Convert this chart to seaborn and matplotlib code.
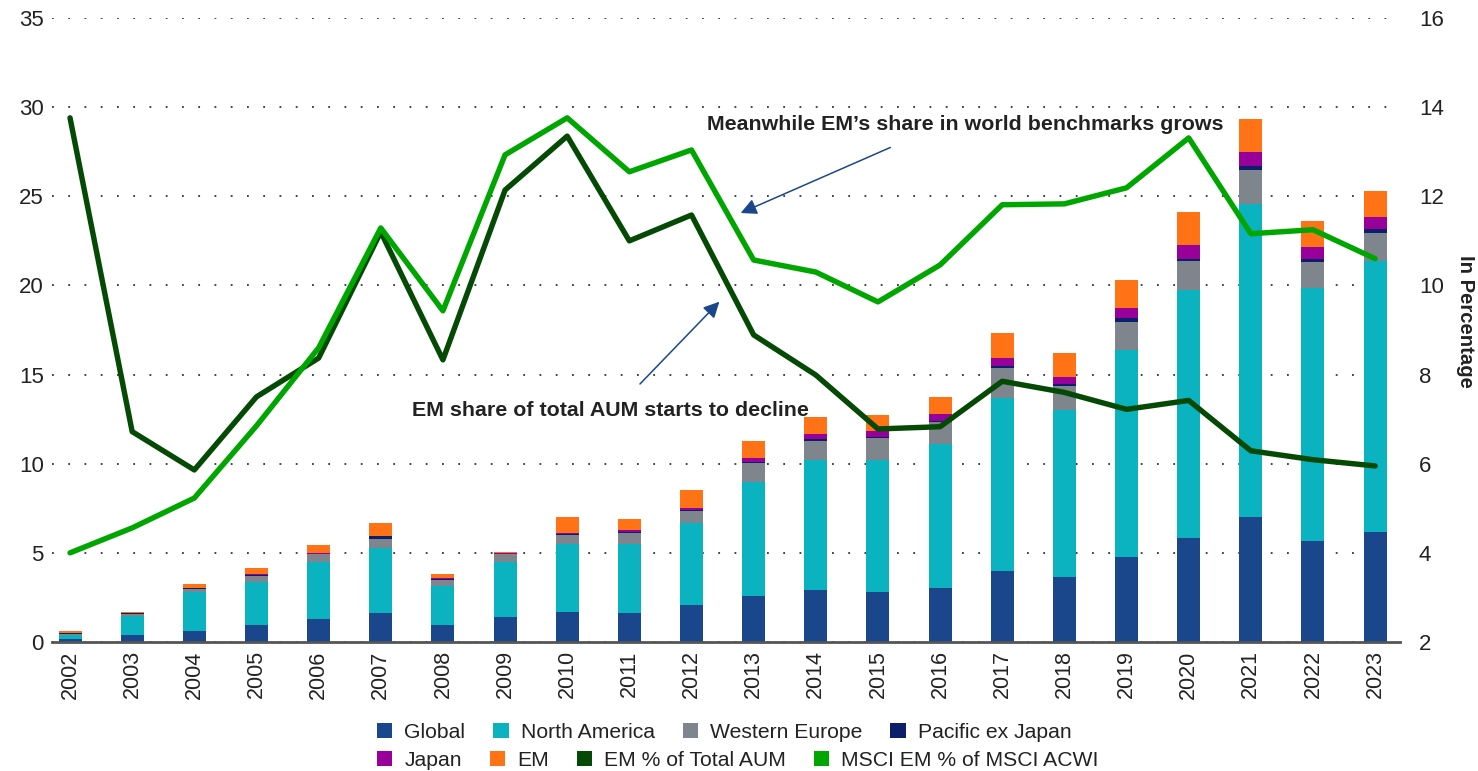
import numpy as np
import pandas as pd
import matplotlib
matplotlib.use("Agg")
import matplotlib.pyplot as plt
from matplotlib.patches import Patch
import seaborn as sns

years = [str(y) for y in range(2002, 2024)]
global_aum = [0.18,0.38,0.61,0.93,1.27,1.61,0.93,1.38,1.70,1.61,2.06,2.59,2.93,2.80,3.02,4.01,3.67,4.78,5.81,7.00,5.69,6.17]
north_america = [0.20,1.10,2.19,2.42,3.20,3.66,2.21,3.10,3.78,3.87,4.63,6.41,7.28,7.41,8.08,9.68,9.35,11.59,13.91,17.58,14.17,15.20]
western_europe = [0.07,0.11,0.19,0.34,0.44,0.53,0.33,0.43,0.53,0.64,0.64,1.02,1.09,1.21,1.23,1.67,1.33,1.57,1.65,1.87,1.45,1.59]
pacific_ex_japan = [0.06,0.02,0.02,0.04,0.03,0.13,0.05,0.04,0.06,0.06,0.08,0.06,0.08,0.09,0.09,0.10,0.11,0.25,0.12,0.24,0.16,0.19]
japan = [0.02,0.02,0.02,0.10,0.08,0.02,0.08,0.06,0.07,0.08,0.13,0.22,0.28,0.34,0.36,0.47,0.42,0.56,0.77,0.77,0.69,0.68]
em = [0.07,0.07,0.23,0.30,0.43,0.74,0.23,0.03,0.85,0.64,1.00,1.00,0.97,0.91,0.98,1.39,1.33,1.53,1.85,1.85,1.43,1.49]
em_pct_total_aum = [13.76,6.72,5.86,7.50,8.37,11.20,8.33,12.14,13.35,11.00,11.58,8.89,7.99,6.78,6.83,7.85,7.60,7.22,7.42,6.29,6.09,5.95]
msci_em_pct_acwi = [4.00,4.56,5.23,6.85,8.60,11.29,9.43,12.93,13.76,12.55,13.04,10.57,10.30,9.63,10.46,11.81,11.83,12.19,13.31,11.16,11.25,10.60]

seg_names = ["Global", "North America", "Western Europe", "Pacific ex Japan", "Japan", "EM"]
seg_values = [global_aum, north_america, western_europe, pacific_ex_japan, japan, em]
seg_colors = ["#1A478C", "#0BB2C0", "#7E858C", "#0B1F6B", "#990099", "#FF7316"]
dark_green = "#044A04"
light_green = "#00A600"

sns.set_theme(style="white")
plt.rcParams["font.family"] = ["Liberation Sans", "DejaVu Sans"]
text_color = "#222222"

fig = plt.figure(figsize=(14.78, 7.71), dpi=100)
ax = fig.add_axes([52/1478, 1-642/771, 1348/1478, 624/771])

df = pd.DataFrame({"Year": years})
for n, v in zip(seg_names, seg_values):
    df[n] = v

bottom = np.zeros(len(years))
for n, c in zip(seg_names, seg_colors):
    sns.barplot(data=df, x="Year", y=n, bottom=bottom, color=c, saturation=1,
                width=0.37, errorbar=None, linewidth=0, ax=ax)
    bottom = bottom + df[n].values

ax.set_ylim(0, 35)
ax.set_xlim(-0.29, 21.4)
ax.set_yticks(np.arange(0, 36, 5))
ax.set_axisbelow(True)
ax.yaxis.grid(True, linestyle=(0, (1, 8)), linewidth=1.3, color="#333333")
ax.xaxis.grid(False)
for s in ["left", "right", "top"]:
    ax.spines[s].set_visible(False)
ax.spines["bottom"].set_color("#555555")
ax.spines["bottom"].set_linewidth(2)
ax.set_xlabel("")
ax.set_ylabel("")
ax.set_xticks(range(len(years)))
ax.set_xticklabels(years, rotation=90, fontsize=15.5, color=text_color)
ax.tick_params(axis="y", length=0, labelsize=16, labelcolor=text_color, pad=6)
ax.tick_params(axis="x", length=0, pad=6)

ax2 = ax.twinx()
ax2.set_ylim(2, 16)
ax2.set_yticks(np.arange(2, 17, 2))
pos = np.arange(len(years))
sns.lineplot(x=pos, y=em_pct_total_aum, color=dark_green, linewidth=3.9, sort=False, ax=ax2)
sns.lineplot(x=pos, y=msci_em_pct_acwi, color=light_green, linewidth=3.9, sort=False, ax=ax2)
ax2.set_xlim(-0.29, 21.4)
for s in ["left", "right", "top", "bottom"]:
    ax2.spines[s].set_visible(False)
ax2.grid(False)
ax2.tick_params(axis="y", length=0, labelsize=16, labelcolor=text_color, pad=13.5)
ax2.set_ylabel("In Percentage", rotation=270, fontsize=14.6, fontweight="bold",
               color=text_color, va="center")
ax2.yaxis.set_label_coords((1465 - 52) / 1348, (642 - 321) / 624)

arrow_color = "#1A478C"
ax.annotate("", xy=(10.75, 24.0), xytext=(13.24, 27.8),
            arrowprops=dict(arrowstyle="-|>", color=arrow_color, lw=1.1, mutation_scale=24))
ax.text(14.4, 29.05, "Meanwhile EM\u2019s share in world benchmarks grows",
        ha="center", va="center", fontsize=15.4, fontweight="bold", color=text_color)
ax.annotate("", xy=(10.48, 19.2), xytext=(9.14, 14.36),
            arrowprops=dict(arrowstyle="-|>", color=arrow_color, lw=1.1, mutation_scale=24))
ax.text(8.69, 12.96, "EM share of total AUM starts to decline",
        ha="center", va="center", fontsize=15.4, fontweight="bold", color=text_color)

def mk(c):
    return Patch(facecolor=c, edgecolor="none")

row1 = [mk(seg_colors[0]), mk(seg_colors[1]), mk(seg_colors[2]), mk(seg_colors[3])]
row1_labels = ["Global", "North America", "Western Europe", "Pacific ex Japan"]
row2 = [mk(seg_colors[4]), mk(seg_colors[5]), mk(dark_green), mk(light_green)]
row2_labels = ["Japan", "EM", "EM % of Total AUM", "MSCI EM % of MSCI ACWI"]

common = dict(ncol=4, frameon=False, fontsize=15.2, handlelength=0.72, handleheight=0.72,
              handletextpad=0.57, columnspacing=1.33, borderpad=0, borderaxespad=0,
              labelcolor=text_color)
leg1 = fig.legend(row1, row1_labels, loc="center left", bbox_to_anchor=(377/1478, 1-732/771), **common)
leg2 = fig.legend(row2, row2_labels, loc="center left", bbox_to_anchor=(377/1478, 1-760/771), **common)

fig.savefig("out.png", dpi=100, facecolor="white")
